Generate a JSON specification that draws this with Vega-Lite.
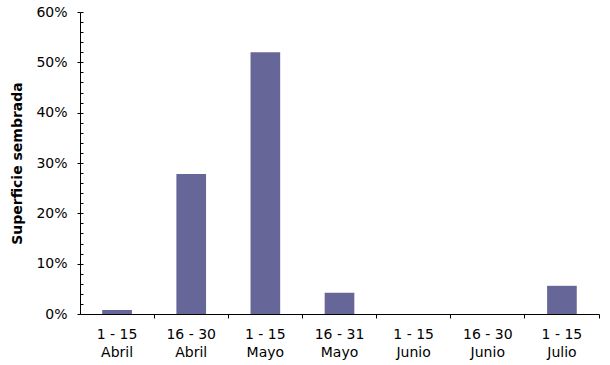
{
  "$schema": "https://vega.github.io/schema/vega-lite/v6.json",
  "autosize": "none",
  "width": 519,
  "height": 302,
  "padding": {"left": 80, "top": 12, "right": 11, "bottom": 51},
  "background": "white",
  "data": {"values": [
    {"periodo": "1 - 15|Abril", "superficie": 0.008},
    {"periodo": "16 - 30|Abril", "superficie": 0.278},
    {"periodo": "1 - 15|Mayo", "superficie": 0.52},
    {"periodo": "16 - 31|Mayo", "superficie": 0.042},
    {"periodo": "1 - 15|Junio", "superficie": 0},
    {"periodo": "16 - 30|Junio", "superficie": 0},
    {"periodo": "1 - 15|Julio", "superficie": 0.056}
  ]},
  "config": {
    "view": {"stroke": null},
    "axis": {"labelFont": "DejaVu Sans", "titleFont": "DejaVu Sans", "labelColor": "#000", "titleColor": "#000", "domainColor": "#000", "tickColor": "#000", "grid": false}
  },
  "layer": [
    {
      "mark": {"type": "bar", "color": "#666699"},
      "encoding": {
        "x": {
          "field": "periodo", "type": "nominal", "sort": null,
          "scale": {"paddingInner": 0.6, "paddingOuter": 0.3},
          "axis": {
            "title": null, "labelAngle": 0, "labelExpr": "split(datum.label, '|')",
            "labelFontSize": 14, "labelLineHeight": 18, "labelPadding": 9,
            "tickSize": 4, "bandPosition": 1.75, "domainWidth": 1, "tickWidth": 1
          }
        },
        "y": {
          "field": "superficie", "type": "quantitative",
          "scale": {"domain": [0, 0.6], "nice": false},
          "axis": {
            "orient": "left", "title": "Superficie sembrada", "titleFontSize": 14, "titleFontWeight": "bold",
            "titlePadding": 11, "format": ".0%", "values": [0, 0.1, 0.2, 0.3, 0.4, 0.5, 0.6],
            "labelFontSize": 14, "labelPadding": 10, "tickSize": 3
          }
        }
      }
    },
    {
      "mark": {"type": "bar", "opacity": 0},
      "encoding": {
        "x": {"field": "periodo", "type": "nominal", "sort": null},
        "y": {
          "field": "superficie", "type": "quantitative",
          "axis": {
            "orient": "left", "title": null, "labels": false, "domain": false, "tickSize": -3,
            "values": [0, 0.02, 0.04, 0.06, 0.08, 0.1, 0.12, 0.14, 0.16, 0.18, 0.2, 0.22, 0.24, 0.26, 0.28, 0.3, 0.32, 0.34, 0.36, 0.38, 0.4, 0.42, 0.44, 0.46, 0.48, 0.5, 0.52, 0.54, 0.56, 0.58, 0.6]
          }
        }
      }
    }
  ],
  "resolve": {"axis": {"y": "independent"}}
}
